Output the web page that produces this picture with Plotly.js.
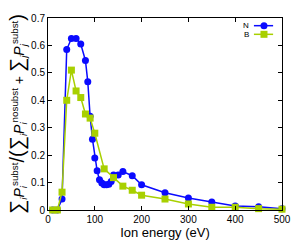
<!DOCTYPE html>
<html>
<head>
<meta charset="utf-8">
<script src="https://cdn.plot.ly/plotly-3.0.1.min.js"></script>
<style>html,body{margin:0;padding:0;background:#fff;}#chart{width:291px;height:243px;}</style>
</head>
<body>
<div id="chart"></div>
<script>
var nEnergy = [10, 20, 30, 40, 50, 60, 70, 80, 85, 90, 95, 100, 105, 110, 115, 120, 125, 130, 135, 140, 150, 160, 180, 200, 250, 300, 350, 400, 450, 500];
var nValues = [0.0, 0.0, 0.04, 0.585, 0.625, 0.625, 0.605, 0.545, 0.468, 0.342, 0.258, 0.19, 0.143, 0.11, 0.098, 0.092, 0.092, 0.094, 0.104, 0.128, 0.128, 0.14, 0.125, 0.092, 0.063, 0.044, 0.029, 0.015, 0.012, 0.005];
var bEnergy = [10, 20, 30, 40, 50, 60, 70, 80, 90, 100, 120, 140, 160, 180, 200, 250, 300, 350, 400, 450, 500];
var bValues = [0.0, 0.0, 0.065, 0.4, 0.51, 0.434, 0.41, 0.35, 0.335, 0.28, 0.15, 0.118, 0.087, 0.072, 0.054, 0.04, 0.022, 0.01, 0.01, 0.005, 0.003];
var seriesNames = ['N', 'B'];
var xTicks = [0, 100, 200, 300, 400, 500];
var yTicks = [0, 0.1, 0.2, 0.3, 0.4, 0.5, 0.6, 0.7];

var blue = '#0a0aff';
var green = '#a8d000';
var F = 'Liberation Sans, Arial, sans-serif';

var traces = [
  {x: nEnergy, y: nValues, name: seriesNames[0], mode: 'lines+markers', type: 'scatter',
   line: {color: blue, width: 1.5}, marker: {symbol: 'circle', size: 7, color: blue}, cliponaxis: false},
  {x: bEnergy, y: bValues, name: seriesNames[1], mode: 'lines+markers', type: 'scatter',
   line: {color: green, width: 1.5}, marker: {symbol: 'square', size: 7, color: green}, cliponaxis: false}
];

// legend samples (paper coordinates)
var lx0 = 0.880, lx1 = 0.962, lxm = 0.923, yN = 0.96, yB = 0.915;
var r = 3.5;
var shapes = [
  {type: 'line', xref: 'paper', yref: 'paper', x0: lx0, x1: lx1, y0: yN, y1: yN, line: {color: blue, width: 1.5}},
  {type: 'circle', xref: 'paper', yref: 'paper', xsizemode: 'pixel', ysizemode: 'pixel', xanchor: lxm, yanchor: yN,
   x0: -r, x1: r, y0: -r, y1: r, fillcolor: blue, line: {width: 0}},
  {type: 'line', xref: 'paper', yref: 'paper', x0: lx0, x1: lx1, y0: yB, y1: yB, line: {color: green, width: 1.5}},
  {type: 'rect', xref: 'paper', yref: 'paper', xsizemode: 'pixel', ysizemode: 'pixel', xanchor: lxm, yanchor: yB,
   x0: -r, x1: r, y0: -r, y1: r, fillcolor: green, line: {width: 0}}
];

var annotations = [
  {xref: 'paper', yref: 'paper', x: 0.862, y: yN, xanchor: 'right', yanchor: 'middle', text: seriesNames[0], showarrow: false, borderpad: 0, font: {family: F, size: 8, color: '#000'}},
  {xref: 'paper', yref: 'paper', x: 0.862, y: yB, xanchor: 'right', yanchor: 'middle', text: seriesNames[1], showarrow: false, borderpad: 0, font: {family: F, size: 8, color: '#000'}}
];

var layout = {
  width: 291, height: 243,
  margin: {l: 48, r: 9, t: 18, b: 33},
  paper_bgcolor: '#fff', plot_bgcolor: '#fff',
  showlegend: false,
  font: {family: F, size: 10, color: '#000'},
  xaxis: {
    range: [0, 500], tickvals: xTicks, ticktext: xTicks.map(String),
    ticks: 'inside', ticklen: 4, tickcolor: '#000', showline: true, linecolor: '#000', linewidth: 1,
    mirror: 'ticks', showgrid: false, zeroline: false,
    tickfont: {family: F, size: 10, color: '#000'},
    title: {text: 'Ion energy (eV)', font: {family: F, size: 13, color: '#000'}, standoff: 3}
  },
  yaxis: {
    range: [0, 0.7], tickvals: yTicks, ticktext: yTicks.map(function(v){return v === 0 ? '0' : v.toFixed(1);}),
    ticks: 'inside', ticklen: 4, tickcolor: '#000', showline: true, linecolor: '#000', linewidth: 1,
    mirror: 'ticks', showgrid: false, zeroline: false,
    tickfont: {family: F, size: 10, color: '#000'},
    title: {text: '<span style="font-size:20px">∑</span><sub><i>i</i></sub><i>P</i><sub><i>i</i></sub><sup>subst</sup><span style="font-size:20px">/(∑</span><sub><i>i</i></sub><i>P</i><sub><i>i</i></sub><sup>nosubst</sup> + <span style="font-size:20px">∑</span><sub><i>j</i></sub><i>P</i><sub><i>j</i></sub><sup>subst</sup><span style="font-size:20px">)</span>',
            font: {family: F, size: 14, color: '#000'}, standoff: 3}
  },
  shapes: shapes,
  annotations: annotations
};

Plotly.newPlot('chart', traces, layout, {displayModeBar: false, staticPlot: true});
</script>
</body>
</html>
